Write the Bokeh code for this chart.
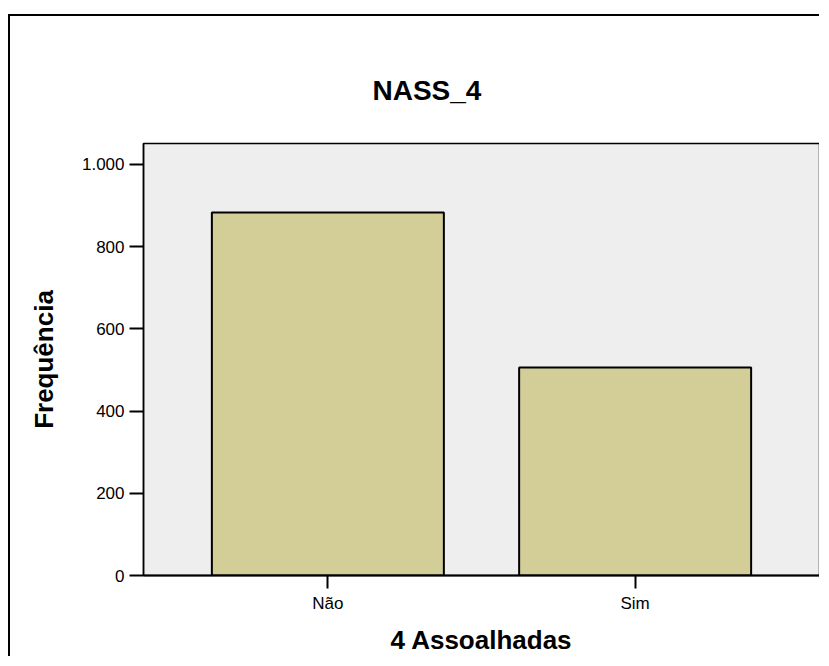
from bokeh.plotting import figure
from bokeh.models import FactorRange, Range1d, FixedTicker
from bokeh.embed import file_html
from bokeh.resources import INLINE

# ---- data ----
categories = ["Não", "Sim"]
counts = [883, 506]
y_ticks = [0, 200, 400, 600, 800, 1000]
y_tick_labels = ["0", "200", "400", "600", "800", "1.000"]
title_text = "NASS_4"
x_label = "4 Assoalhadas"
y_label = "Frequência"

FONT = "Liberation Sans"

p = figure(
    x_range=FactorRange(factors=categories, range_padding=0.10,
                        range_padding_units="absolute"),
    y_range=Range1d(0, 1051),
    width=811, height=642,
    output_backend="svg", toolbar_location=None,
    min_border_left=133, min_border_right=2,
    min_border_top=127, min_border_bottom=83,
)
p.styles = {"border-left": "2px solid black", "border-top": "2px solid black",
            "margin-top": "14px", "margin-left": "8px"}

p.vbar(x=categories, top=counts, width=0.755, bottom=0,
       fill_color="#D3CE98", line_color="black", line_width=2)

p.background_fill_color = "#EEEEEE"
p.border_fill_color = "white"
p.outline_line_color = "black"
p.outline_line_width = 1.5
p.xgrid.grid_line_color = None
p.ygrid.grid_line_color = None

# title
p.title.text = title_text
p.title.align = "left"
p.title.offset = 229
p.title.standoff = 75
p.title.text_font = FONT
p.title.text_font_size = "28px"
p.title.text_font_style = "bold"
p.title.text_color = "black"

# y axis
p.yaxis.ticker = FixedTicker(ticks=y_ticks)
p.yaxis.major_label_overrides = {t: l for t, l in zip(y_ticks, y_tick_labels)}
p.yaxis.major_tick_out = 14
p.yaxis.major_tick_in = 0
p.yaxis.minor_tick_out = 0
p.yaxis.minor_tick_in = 0
p.yaxis.major_tick_line_width = 2
p.yaxis.axis_line_width = 1.5
p.yaxis.major_label_text_font = FONT
p.yaxis.major_label_text_font_size = "17px"
p.yaxis.major_label_text_color = "black"
p.yaxis.major_label_standoff = 5
p.yaxis.axis_label = y_label
p.yaxis.axis_label_text_font = FONT
p.yaxis.axis_label_text_font_size = "26px"
p.yaxis.axis_label_text_font_style = "bold"
p.yaxis.axis_label_text_color = "black"
p.yaxis.axis_label_standoff = 20

# x axis
p.xaxis.major_tick_out = 13
p.xaxis.major_tick_in = 0
p.xaxis.major_tick_line_width = 2
p.xaxis.axis_line_width = 2
p.xaxis.major_label_text_font = FONT
p.xaxis.major_label_text_font_size = "17px"
p.xaxis.major_label_text_color = "black"
p.xaxis.major_label_standoff = 5
p.xaxis.axis_label = x_label
p.xaxis.axis_label_text_font = FONT
p.xaxis.axis_label_text_font_size = "26px"
p.xaxis.axis_label_text_font_style = "bold"
p.xaxis.axis_label_text_color = "black"
p.xaxis.axis_label_text_line_height = 1.0
p.xaxis.axis_label_standoff = 9

open("out.html", "w").write(file_html(p, INLINE))
